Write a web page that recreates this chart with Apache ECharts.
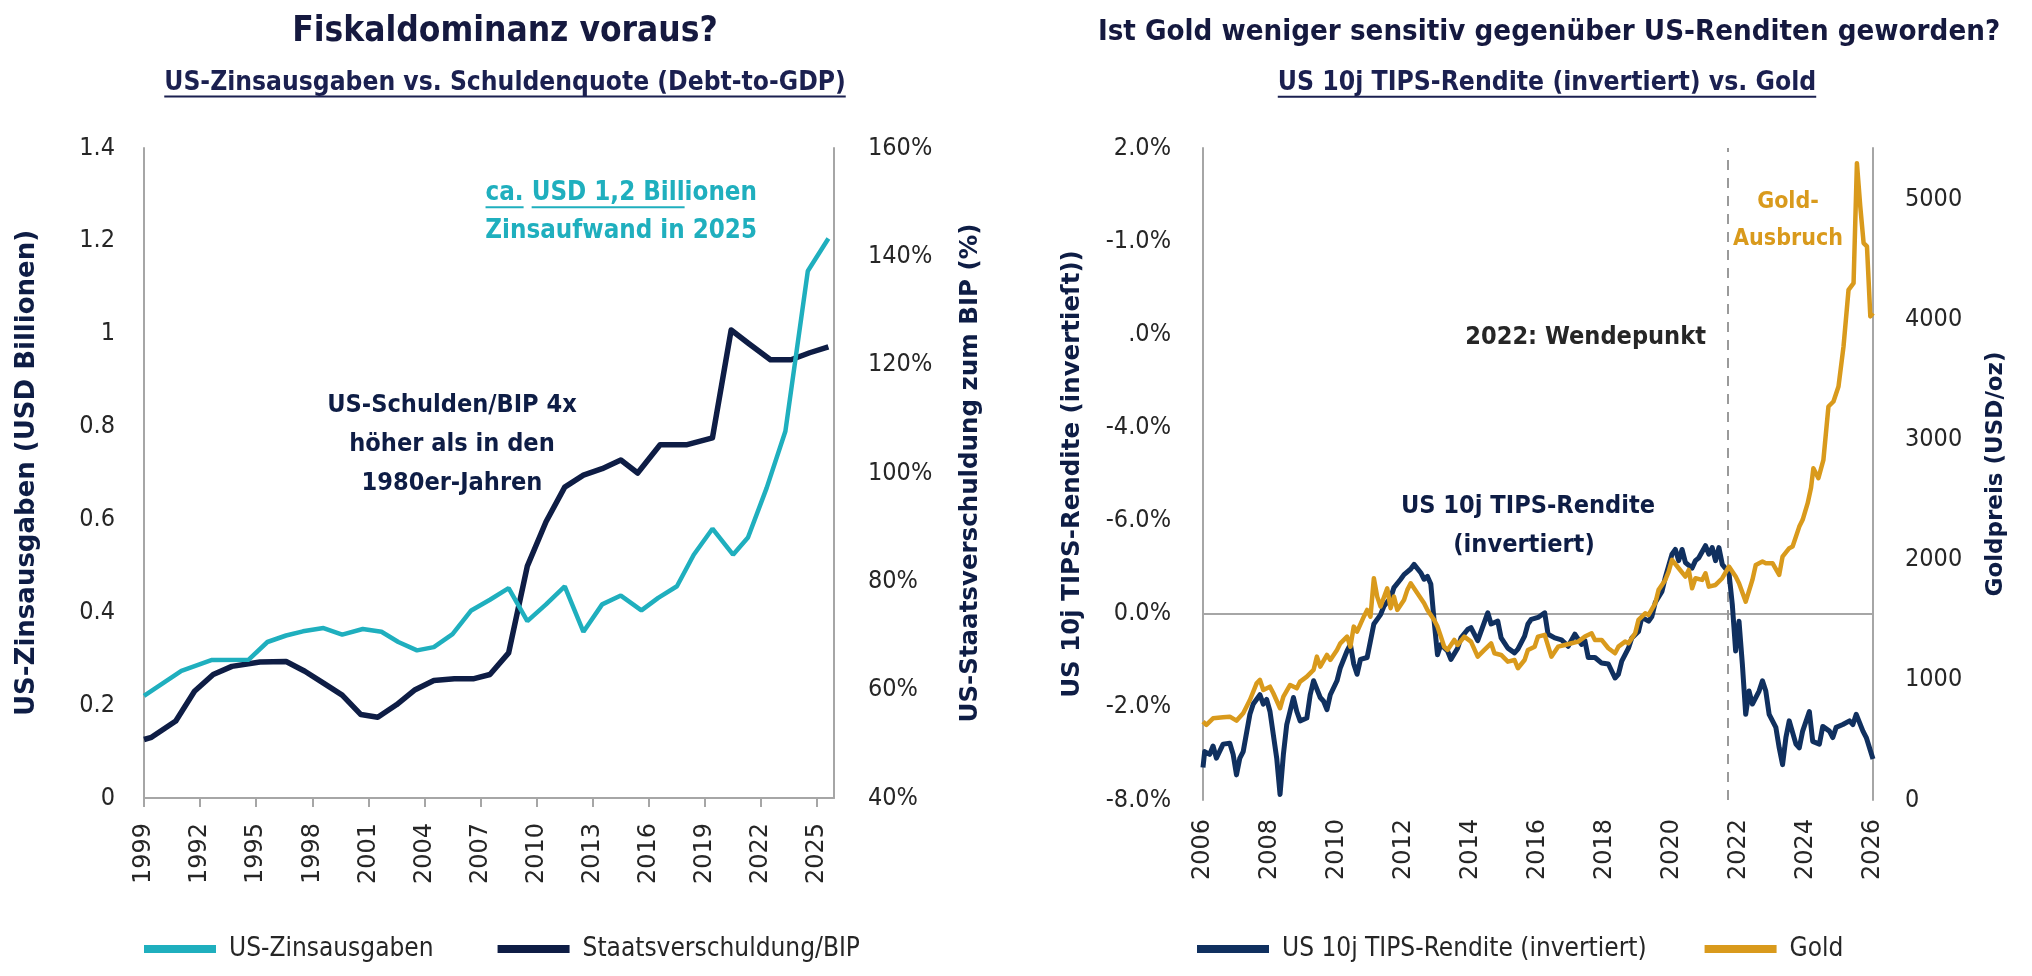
<!DOCTYPE html>
<html>
<head>
<meta charset="utf-8">
<script src="https://cdn.jsdelivr.net/npm/echarts@6/dist/echarts.min.js"></script>
<style>
html, body { margin: 0; padding: 0; background: #ffffff; }
#chart { width: 2032px; height: 976px; }
</style>
</head>
<body>
<div id="chart"></div>
<script>
// ---- linkes Diagramm: Zinsausgaben vs. Schuldenquote ----
const interestYears = [1989, 1991, 1992.6, 1994.6, 1995.6, 1996.6, 1997.5, 1998.6, 1999.6, 2000.7, 2001.7, 2002.6, 2003.6, 2004.5, 2005.5, 2006.5, 2007.5, 2008.5, 2009.5, 2010.5, 2011.5, 2012.5, 2013.5, 2014.5, 2015.6, 2016.5, 2017.5, 2018.4, 2019.4, 2020.5, 2021.3, 2022.3, 2023.3, 2024.5, 2025.6];
const interestValues = [0.22, 0.274, 0.297, 0.298, 0.336, 0.35, 0.359, 0.366, 0.352, 0.364, 0.358, 0.336, 0.318, 0.325, 0.353, 0.404, 0.427, 0.452, 0.381, 0.417, 0.456, 0.358, 0.417, 0.436, 0.404, 0.431, 0.456, 0.524, 0.58, 0.524, 0.561, 0.668, 0.79, 1.135, 1.205];

const debtYears = [1989, 1989.4, 1990.7, 1991.7, 1992.7, 1993.7, 1995.2, 1996.6, 1997.6, 1998.6, 1999.6, 2000.6, 2001.5, 2002.5, 2003.5, 2004.5, 2005.6, 2006.6, 2007.5, 2008.5, 2009.5, 2010.5, 2011.5, 2012.5, 2013.5, 2014.5, 2015.4, 2016.6, 2018, 2019.4, 2020.4, 2021.3, 2022.5, 2023.6, 2024.6, 2025.6];
const debtValues = [50.8, 51.2, 54.2, 59.7, 62.8, 64.3, 65.1, 65.2, 63.4, 61.2, 59, 55.4, 54.9, 57.2, 60, 61.7, 62, 62, 62.8, 66.8, 82.8, 91, 97.4, 99.6, 100.8, 102.4, 100, 105.2, 105.2, 106.5, 126.4, 124, 120.9, 120.9, 122.2, 123.3];

const leftTickYears = [1989, 1992, 1995, 1998, 2001, 2004, 2007, 2010, 2013, 2016, 2019, 2022, 2025];
const leftTickLabels = ['1999', '1992', '1995', '1998', '2001', '2004', '2007', '2010', '2013', '2016', '2019', '2022', '2025'];

// ---- rechtes Diagramm: TIPS-Rendite (invertiert) vs. Gold ----
const tipsYears = [2006.0, 2006.05, 2006.2, 2006.3, 2006.4, 2006.6, 2006.8, 2006.9, 2007.0, 2007.1, 2007.2, 2007.4, 2007.5, 2007.7, 2007.8, 2007.9, 2008.0, 2008.2, 2008.3, 2008.4, 2008.5, 2008.7, 2008.8, 2008.9, 2009.1, 2009.2, 2009.3, 2009.5, 2009.6, 2009.7, 2009.8, 2010.0, 2010.1, 2010.3, 2010.4, 2010.5, 2010.6, 2010.7, 2010.9, 2011.0, 2011.1, 2011.3, 2011.4, 2011.6, 2011.7, 2011.9, 2012.0, 2012.2, 2012.3, 2012.5, 2012.6, 2012.7, 2012.8, 2012.9, 2013.0, 2013.1, 2013.3, 2013.4, 2013.6, 2013.7, 2013.9, 2014.0, 2014.2, 2014.3, 2014.5, 2014.6, 2014.8, 2014.9, 2015.1, 2015.3, 2015.4, 2015.6, 2015.7, 2015.8, 2016.0, 2016.2, 2016.3, 2016.5, 2016.7, 2016.9, 2017.1, 2017.3, 2017.4, 2017.5, 2017.7, 2017.9, 2018.1, 2018.3, 2018.4, 2018.5, 2018.7, 2018.8, 2019.0, 2019.1, 2019.3, 2019.4, 2019.5, 2019.7, 2019.8, 2020.0, 2020.1, 2020.2, 2020.3, 2020.4, 2020.6, 2020.7, 2020.8, 2021.0, 2021.1, 2021.2, 2021.3, 2021.4, 2021.5, 2021.7, 2021.8, 2021.9, 2022.0, 2022.1, 2022.2, 2022.3, 2022.4, 2022.6, 2022.7, 2022.8, 2022.9, 2023.1, 2023.2, 2023.3, 2023.4, 2023.5, 2023.7, 2023.8, 2023.9, 2024.1, 2024.2, 2024.4, 2024.5, 2024.7, 2024.8, 2024.9, 2025.1, 2025.3, 2025.4, 2025.5, 2025.7, 2025.8, 2026.0];
const tipsValues = [-1.65, -1.48, -1.51, -1.42, -1.55, -1.40, -1.39, -1.51, -1.73, -1.55, -1.48, -1.08, -0.97, -0.87, -0.97, -0.92, -1.05, -1.55, -1.94, -1.51, -1.19, -0.90, -1.05, -1.15, -1.12, -0.87, -0.72, -0.90, -0.94, -1.03, -0.87, -0.72, -0.58, -0.40, -0.33, -0.54, -0.65, -0.49, -0.47, -0.29, -0.11, -0.01, 0.08, 0.17, 0.28, 0.37, 0.42, 0.48, 0.53, 0.44, 0.37, 0.40, 0.32, -0.08, -0.44, -0.33, -0.40, -0.49, -0.37, -0.26, -0.17, -0.15, -0.29, -0.19, 0.01, -0.11, -0.08, -0.26, -0.37, -0.42, -0.38, -0.24, -0.11, -0.06, -0.04, 0.01, -0.22, -0.26, -0.28, -0.35, -0.22, -0.33, -0.29, -0.47, -0.47, -0.53, -0.54, -0.69, -0.65, -0.51, -0.37, -0.26, -0.19, -0.04, -0.08, -0.03, 0.12, 0.24, 0.39, 0.64, 0.69, 0.57, 0.69, 0.55, 0.49, 0.57, 0.60, 0.73, 0.64, 0.71, 0.57, 0.71, 0.53, 0.44, 0.10, -0.40, -0.08, -0.54, -1.08, -0.83, -0.97, -0.83, -0.72, -0.83, -1.08, -1.22, -1.44, -1.62, -1.33, -1.15, -1.40, -1.44, -1.26, -1.05, -1.37, -1.40, -1.21, -1.26, -1.33, -1.22, -1.19, -1.15, -1.19, -1.08, -1.26, -1.33, -1.56];

const goldYears = [2006.0, 2006.1, 2006.3, 2006.6, 2006.8, 2007.0, 2007.2, 2007.4, 2007.6, 2007.7, 2007.8, 2008.0, 2008.1, 2008.3, 2008.4, 2008.6, 2008.8, 2008.9, 2009.1, 2009.3, 2009.4, 2009.5, 2009.7, 2009.8, 2010.0, 2010.1, 2010.3, 2010.4, 2010.5, 2010.6, 2010.8, 2010.9, 2011.0, 2011.1, 2011.2, 2011.3, 2011.5, 2011.6, 2011.7, 2011.8, 2012.0, 2012.1, 2012.2, 2012.4, 2012.6, 2012.7, 2012.9, 2013.0, 2013.1, 2013.2, 2013.3, 2013.5, 2013.6, 2013.8, 2014.0, 2014.2, 2014.4, 2014.6, 2014.7, 2014.9, 2015.1, 2015.3, 2015.4, 2015.6, 2015.7, 2015.9, 2016.0, 2016.2, 2016.4, 2016.6, 2016.8, 2017.0, 2017.2, 2017.4, 2017.6, 2017.7, 2017.9, 2018.1, 2018.3, 2018.4, 2018.6, 2018.7, 2018.9, 2019.0, 2019.2, 2019.3, 2019.5, 2019.6, 2019.8, 2019.9, 2020.0, 2020.2, 2020.4, 2020.5, 2020.6, 2020.7, 2020.9, 2021.0, 2021.1, 2021.3, 2021.5, 2021.7, 2021.9, 2022.0, 2022.2, 2022.4, 2022.5, 2022.7, 2022.8, 2023.0, 2023.2, 2023.3, 2023.5, 2023.6, 2023.8, 2023.9, 2024.05, 2024.15, 2024.22, 2024.37, 2024.52, 2024.67, 2024.82, 2024.97, 2025.12, 2025.27, 2025.42, 2025.52, 2025.62, 2025.72, 2025.82, 2025.92, 2026.0];
const goldValues = [653, 625, 680, 689, 694, 661, 722, 833, 972, 1000, 916, 944, 889, 764, 861, 958, 930, 986, 1027, 1083, 1194, 1111, 1208, 1166, 1250, 1305, 1361, 1277, 1444, 1402, 1527, 1583, 1527, 1847, 1694, 1611, 1763, 1597, 1694, 1583, 1666, 1750, 1805, 1722, 1638, 1583, 1500, 1444, 1361, 1277, 1250, 1333, 1291, 1361, 1319, 1194, 1250, 1305, 1222, 1208, 1152, 1166, 1097, 1166, 1250, 1277, 1361, 1375, 1194, 1277, 1291, 1305, 1319, 1361, 1388, 1333, 1333, 1264, 1222, 1277, 1319, 1305, 1388, 1500, 1555, 1541, 1638, 1750, 1833, 1902, 2000, 1930, 1861, 1916, 1763, 1847, 1833, 1888, 1777, 1791, 1847, 1944, 1861, 1805, 1652, 1833, 1958, 1986, 1972, 1972, 1875, 2027, 2097, 2111, 2277, 2333, 2472, 2600, 2763, 2680, 2833, 3277, 3319, 3444, 3777, 4249, 4305, 5304, 4943, 4638, 4610, 4027, 4055];

const rightTickYears = [2006, 2008, 2010, 2012, 2014, 2016, 2018, 2020, 2022, 2024, 2026];
const tipsTickValues = [-2, -1, 0, 1, 2, 3, 4, 5];
const tipsTickLabels = ['-8.0%', '-2.0%', '0.0%', '-6.0%', '-4.0%', '.0%', '-1.0%', '2.0%'];
const goldTickValues = [0, 1000, 2000, 3000, 4000, 5000];
const turningPointYear = 2021.65;

// Farben
const TEAL = '#1FAFBE';
const NAVY = '#0E1D45';
const TIPS_BLUE = '#10305F';
const GOLD = '#D99A1C';
const AXIS_GRAY = '#A6A6A6';
const TEXT = '#262626';

// Schrift wählen (ohne Netzwerk nur lokal installierte)
const measureCtx = document.createElement('canvas').getContext('2d');
function pickFont(list) {
    const probe = 'abcdefghijklmnopqrstuvwxyz ABCDEFG 0123456789';
    measureCtx.font = '40px monospace';
    const base = measureCtx.measureText(probe).width;
    for (const f of list) {
        measureCtx.font = '40px "' + f + '", monospace';
        if (Math.abs(measureCtx.measureText(probe).width - base) > 0.5) return f;
    }
    return 'sans-serif';
}
function textWidth(str, size, weight, family) {
    measureCtx.font = weight + ' ' + size + 'px "' + family + '"';
    return measureCtx.measureText(str).width;
}
function fitSize(str, weight, family, target, maxSize) {
    const s = 100 * target / textWidth(str, 100, weight, family);
    return Math.min(maxSize, Math.round(s * 10) / 10);
}

const COND = pickFont(['DejaVu Sans Condensed', 'Liberation Sans Narrow', 'Roboto Condensed', 'Roboto']);
const WIDE = 'DejaVu Sans';

function pairs(xs, ys) {
    return xs.map((x, i) => [x, ys[i]]);
}

// Text-Hilfen
function label(text, x, y, size, weight, color, align) {
    return {
        type: 'text', x: x, y: y, silent: true,
        style: {
            text: text, fill: color, font: weight + ' ' + size + 'px "' + COND + '"',
            align: align || 'center', verticalAlign: 'middle'
        }
    };
}
function hline(x1, x2, y, color, w) {
    return {
        type: 'line', silent: true,
        shape: { x1: x1, y1: y, x2: x2, y2: y },
        style: { stroke: color, lineWidth: w || 2 }
    };
}

function init() {
    const chart = echarts.init(document.getElementById('chart'), null, { renderer: 'canvas' });

    const titleL = 'Fiskaldominanz voraus?';
    const titleR = 'Ist Gold weniger sensitiv gegenüber US-Renditen geworden?';
    const subL = 'US-Zinsausgaben vs. Schuldenquote (Debt-to-GDP)';
    const subR = 'US 10j TIPS-Rendite (invertiert) vs. Gold';

    const tSizeL = fitSize(titleL, 'bold', COND, 438, 35);
    const tSizeR = fitSize(titleR, 'bold', COND, 904, 35);
    const sSizeL = fitSize(subL, 'bold', COND, 681, 30);
    const sSizeR = fitSize(subR, 'bold', COND, 538, 30);
    const annSize = fitSize('US-Schulden/BIP 4x', 'bold', COND, 250, 28);
    const goldAnnSize = fitSize('Ausbruch', 'bold', COND, 110, 28);

    const graphics = [];
    // Titel + Untertitel
    graphics.push(label(titleL, 505, 32, tSizeL, 'bold', '#15193F'));
    graphics.push(label(titleR, 1549, 32, tSizeR, 'bold', '#15193F'));
    graphics.push(label(subL, 505, 83, sSizeL, 'bold', '#1B2050'));
    graphics.push(label(subR, 1547, 83, sSizeR, 'bold', '#1B2050'));
    const wSubL = textWidth(subL, sSizeL, 'bold', COND);
    const wSubR = textWidth(subR, sSizeR, 'bold', COND);
    graphics.push(hline(505 - wSubL / 2, 505 + wSubL / 2, 83 + sSizeL * 0.52, '#1B2050', 2));
    graphics.push(hline(1547 - wSubR / 2, 1547 + wSubR / 2, 83 + sSizeR * 0.52, '#1B2050', 2));

    // Annotationen links
    const ann1 = 'ca. USD 1,2 Billionen';
    const a1Size = fitSize(ann1, 'bold', COND, 272, 28);
    graphics.push(label(ann1, 757, 193, a1Size, 'bold', TEAL, 'right'));
    graphics.push(label('Zinsaufwand in 2025', 757, 231, a1Size, 'bold', TEAL, 'right'));
    const a1Left = 757 - textWidth(ann1, a1Size, 'bold', COND);
    const ulY = 193 + a1Size * 0.55;
    graphics.push(hline(a1Left, a1Left + textWidth('ca.', a1Size, 'bold', COND), ulY, TEAL, 2));
    graphics.push(hline(a1Left + textWidth('ca. ', a1Size, 'bold', COND), a1Left + textWidth('ca. USD 1,2 Bill', a1Size, 'bold', COND), ulY, TEAL, 2));

    graphics.push(label('US-Schulden/BIP 4x', 452, 405, annSize, 'bold', NAVY));
    graphics.push(label('höher als in den', 452, 444, annSize, 'bold', NAVY));
    graphics.push(label('1980er-Jahren', 452, 483, annSize, 'bold', NAVY));

    // Annotationen rechts
    graphics.push(label('2022: Wendepunkt', 1706, 337, annSize, 'bold', '#262626', 'right'));
    graphics.push(label('Gold-', 1788, 202, goldAnnSize, 'bold', GOLD));
    graphics.push(label('Ausbruch', 1788, 239, goldAnnSize, 'bold', GOLD));
    graphics.push(label('US 10j TIPS-Rendite', 1528, 506, annSize, 'bold', NAVY));
    graphics.push(label('(invertiert)', 1524, 545, annSize, 'bold', NAVY));

    const tickFont = { fontFamily: COND, fontSize: 25, color: TEXT };
    const yearFont = { fontFamily: WIDE, fontSize: 24, color: TEXT };
    const nameFont = size => ({ fontFamily: WIDE, fontWeight: 'bold', fontSize: size, color: NAVY });
    const axisLine = { show: true, onZero: false, lineStyle: { color: AXIS_GRAY, width: 2 } };

    const option = {
        animation: false,
        backgroundColor: '#ffffff',
        graphic: graphics,
        grid: [
            { left: 144, top: 148, width: 690, height: 650 },
            { left: 1203, top: 148, width: 670, height: 652 }
        ],
        legend: [
            {
                left: 139, top: 931, itemWidth: 72, itemHeight: 8, itemGap: 64,
                icon: 'rect',
                data: ['US-Zinsausgaben', 'Staatsverschuldung/BIP'],
                textStyle: { fontFamily: COND, fontSize: 26, color: TEXT, padding: [0, 0, 0, 8] }
            },
            {
                left: 1192, top: 931, itemWidth: 72, itemHeight: 8, itemGap: 58,
                icon: 'rect',
                data: ['US 10j TIPS-Rendite (invertiert)', 'Gold'],
                textStyle: { fontFamily: COND, fontSize: 26, color: TEXT, padding: [0, 0, 0, 8] }
            }
        ],
        xAxis: [
            {
                type: 'value', gridIndex: 0, min: 1989, max: 2025.9, interval: 3,
                axisLine: axisLine,
                axisTick: { show: true, length: 9, customValues: leftTickYears, lineStyle: { color: AXIS_GRAY, width: 2 } },
                axisLabel: {
                    rotate: 90, margin: 25, customValues: leftTickYears, ...yearFont,
                    formatter: v => leftTickLabels[leftTickYears.indexOf(v)] || ''
                },
                splitLine: { show: false }
            },
            {
                type: 'value', gridIndex: 1, min: 2006, max: 2026, interval: 2,
                axisLine: { show: false, onZero: false },
                axisTick: { show: false },
                axisLabel: {
                    rotate: 90, margin: 19, customValues: rightTickYears, ...yearFont,
                    formatter: v => String(v)
                },
                splitLine: { show: false }
            }
        ],
        yAxis: [
            {
                type: 'value', gridIndex: 0, min: 0, max: 1.4, interval: 0.2,
                axisLine: axisLine, axisTick: { show: false }, splitLine: { show: false },
                axisLabel: { margin: 29, ...tickFont },
                name: 'US-Zinsausgaben (USD Billionen)', nameLocation: 'middle', nameGap: 104,
                nameTextStyle: nameFont(26)
            },
            {
                type: 'value', gridIndex: 0, position: 'right', min: 40, max: 160, interval: 20,
                axisLine: axisLine, axisTick: { show: false }, splitLine: { show: false },
                axisLabel: { margin: 34, formatter: '{value}%', ...tickFont },
                name: 'US-Staatsverschuldung zum BIP (%)', nameLocation: 'middle', nameGap: 124, nameRotate: 90,
                nameTextStyle: nameFont(24.5)
            },
            {
                type: 'value', gridIndex: 1, min: -2, max: 5, interval: 1,
                axisLine: axisLine, axisTick: { show: false }, splitLine: { show: false },
                axisLabel: {
                    margin: 32, ...tickFont,
                    formatter: v => tipsTickLabels[tipsTickValues.indexOf(v)] || ''
                },
                name: 'US 10j TIPS-Rendite (invertieſt))', nameLocation: 'middle', nameGap: 118,
                nameTextStyle: nameFont(24.5)
            },
            {
                type: 'value', gridIndex: 1, position: 'right', min: 0, max: 5430, interval: 1000,
                axisLine: axisLine, axisTick: { show: false }, splitLine: { show: false },
                axisLabel: { margin: 32, customValues: goldTickValues, formatter: v => String(v), ...tickFont },
                name: 'Goldpreis (USD/oz)', nameLocation: 'middle', nameGap: 112, nameRotate: 90,
                nameTextStyle: nameFont(23)
            }
        ],
        series: [
            {
                name: 'US-Zinsausgaben', type: 'line', xAxisIndex: 0, yAxisIndex: 0,
                data: pairs(interestYears, interestValues),
                showSymbol: false, symbol: 'none', z: 4,
                lineStyle: { color: TEAL, width: 4.5 }, itemStyle: { color: TEAL }
            },
            {
                name: 'Staatsverschuldung/BIP', type: 'line', xAxisIndex: 0, yAxisIndex: 1,
                data: pairs(debtYears, debtValues),
                showSymbol: false, symbol: 'none', z: 3,
                lineStyle: { color: NAVY, width: 5.5, join: 'round' }, itemStyle: { color: NAVY }
            },
            {
                name: 'US 10j TIPS-Rendite (invertiert)', type: 'line', xAxisIndex: 1, yAxisIndex: 2,
                data: pairs(tipsYears, tipsValues),
                showSymbol: false, symbol: 'none', z: 3,
                lineStyle: { color: TIPS_BLUE, width: 5, join: 'round' }, itemStyle: { color: TIPS_BLUE },
                markLine: {
                    silent: true, symbol: ['none', 'none'], label: { show: false }, z: 1,
                    data: [
                        { yAxis: 0, lineStyle: { type: 'solid', color: AXIS_GRAY, width: 2 } },
                        { xAxis: turningPointYear, lineStyle: { type: [10, 8], color: '#9A9A9A', width: 2 } }
                    ]
                }
            },
            {
                name: 'Gold', type: 'line', xAxisIndex: 1, yAxisIndex: 3,
                data: pairs(goldYears, goldValues),
                showSymbol: false, symbol: 'none', z: 4,
                lineStyle: { color: GOLD, width: 4.5, join: 'round' }, itemStyle: { color: GOLD }
            }
        ]
    };

    chart.setOption(option);
}

window.addEventListener('DOMContentLoaded', init);
</script>
</body>
</html>
